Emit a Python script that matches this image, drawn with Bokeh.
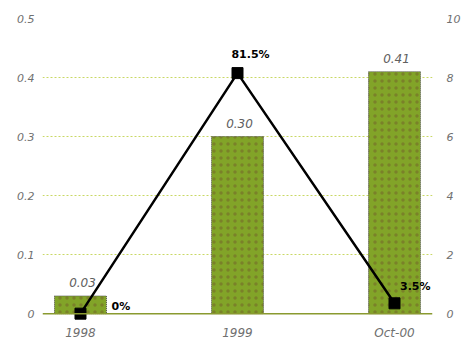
from bokeh.plotting import figure
from bokeh.models import (Range1d, LinearAxis, FixedTicker, Span,
                          ColumnDataSource, LabelSet, Label)
from bokeh.core.properties import value
from bokeh.embed import file_html
from bokeh.resources import INLINE

# ---- data ----
categories = ["1998", "1999", "Oct-00"]
bar_values = [0.03, 0.30, 0.41]
bar_labels = ["0.03", "0.30", "0.41"]
line_values = [0.0, 8.15, 0.35]
line_labels = ["0%", "81.5%", "3.5%"]
left_ticks = [0, 0.1, 0.2, 0.3, 0.4, 0.5]
right_ticks = [0, 2, 4, 6, 8, 10]

FONT = "DejaVu Sans"
GREY = "#707070"

xs = list(range(len(categories)))

p = figure(frame_width=390, frame_height=304,
           x_range=Range1d(-0.242, len(categories) - 1 + 0.242),
           y_range=Range1d(-0.015, 0.5),
           output_backend="svg", toolbar_location=None,
           min_border_left=42, min_border_right=34, min_border_top=18, min_border_bottom=23)
p.outline_line_color = None
p.extra_y_ranges = {"right": Range1d(-0.3, 10)}

src = ColumnDataSource(dict(x=xs, val=bar_values, lab=bar_labels,
                            lv=line_values, ll=line_labels))

# grid
p.xgrid.grid_line_color = None
p.ygrid.ticker = FixedTicker(ticks=left_ticks[1:])
p.ygrid.grid_line_color = "#c9d865"
p.ygrid.grid_line_dash = "2 2"
p.ygrid.grid_line_width = 1

# bars
p.vbar(x="x", top="val", bottom=0, width=0.331, source=src,
       fill_color="#82a428", line_color="#555555", line_dash="1 1", line_width=1,
       hatch_pattern="dot", hatch_color="#6b3f2a", hatch_scale=7, hatch_alpha=0.35,
       hatch_weight=1)

# baseline
p.add_layout(Span(location=0, dimension="width", line_color="#8a9a30", line_width=1.5))

# line
p.line(x="x", y="lv", source=src, y_range_name="right", line_color="black", line_width=2.5)
p.scatter(x="x", y="lv", source=src, y_range_name="right", marker="square",
          size=11, fill_color="black", line_color="black")

# bar labels
p.add_layout(LabelSet(x="x", y="val", text="lab", source=src, x_offset=2, y_offset=9,
                      text_align="center", text_baseline="bottom",
                      text_font=value(FONT), text_font_style="italic", text_font_size="12px",
                      text_color="#606060"))

# line labels
offsets = [(31, 7, "left"), (13, 19, "center"), (36, 17, "right")]
for i, (dx, dy, al) in enumerate(offsets):
    p.add_layout(Label(x=xs[i], y=line_values[i], y_range_name="right",
                       text=line_labels[i], x_offset=dx, y_offset=dy,
                       text_align=al, text_baseline="middle",
                       text_font=FONT, text_font_style="bold", text_font_size="11px",
                       text_color="black"))

# axes
p.xaxis.ticker = FixedTicker(ticks=xs)
p.xaxis.major_label_overrides = {i: c for i, c in zip(xs, categories)}
p.xaxis.axis_line_color = None
p.xaxis.major_tick_line_color = None
p.xaxis.major_tick_out = 0
p.xaxis.minor_tick_line_color = None
p.xaxis.major_label_standoff = 3
p.xaxis.major_label_text_font = FONT
p.xaxis.major_label_text_font_style = "italic"
p.xaxis.major_label_text_font_size = "12px"
p.xaxis.major_label_text_color = GREY

p.yaxis.ticker = FixedTicker(ticks=left_ticks)
p.yaxis.axis_line_color = None
p.yaxis.major_tick_line_color = None
p.yaxis.major_tick_out = 0
p.yaxis.minor_tick_line_color = None
p.yaxis.major_label_standoff = 8
p.yaxis.major_label_text_font = FONT
p.yaxis.major_label_text_font_style = "italic"
p.yaxis.major_label_text_font_size = "11px"
p.yaxis.major_label_text_color = GREY

ra = LinearAxis(y_range_name="right", ticker=FixedTicker(ticks=right_ticks))
ra.axis_line_color = None
ra.major_tick_line_color = None
ra.major_tick_out = 0
ra.minor_tick_line_color = None
ra.major_label_standoff = 14
ra.major_label_text_font = FONT
ra.major_label_text_font_style = "italic"
ra.major_label_text_font_size = "11px"
ra.major_label_text_color = GREY
p.add_layout(ra, "right")

open("out.html", "w").write(file_html(p, INLINE))
